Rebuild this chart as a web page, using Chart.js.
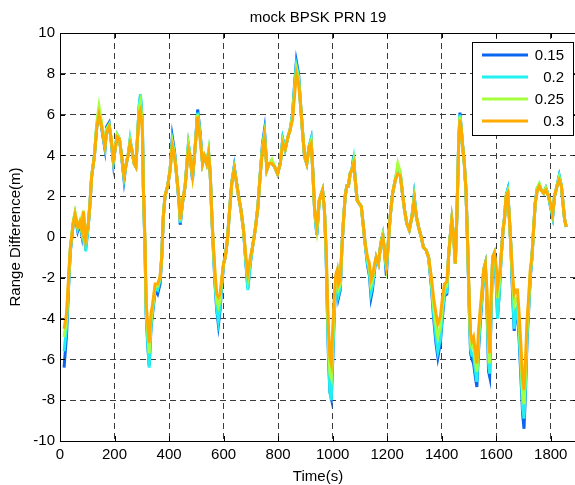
<!DOCTYPE html>
<html>
<head>
<meta charset="utf-8">
<title>mock BPSK PRN 19</title>
<script src="https://cdn.jsdelivr.net/npm/chart.js@4.4.1/dist/chart.umd.min.js"></script>
<style>
  html, body { margin: 0; padding: 0; background: #fff; overflow: hidden; }
  #wrap { width: 600px; height: 485px; }
</style>
</head>
<body>
<div id="wrap"><canvas id="rangeChart" width="600" height="485"></canvas></div>
<script>
// time axis (s), shared by all four runs
const times = [
  15, 24, 33, 38, 49, 55, 65, 73, 80, 86,
  94, 104, 110, 116, 126, 135, 143, 150, 159, 165,
  171, 180, 187, 196, 202, 210, 218, 226, 235, 241,
  251, 257, 263, 272, 278, 284, 290, 295, 302, 306,
  312, 316, 322, 327, 334, 340, 349, 358, 367, 373,
  379, 385, 395, 404, 412, 420, 428, 437, 441, 449,
  459, 471, 477, 486, 496, 505, 514, 523, 530, 538,
  545, 551, 557, 563, 569, 575, 581, 587, 594, 600,
  606, 614, 622, 630, 639, 646, 655, 664, 673, 682,
  689, 698, 706, 716, 726, 734, 743, 750, 759, 767,
  777, 787, 798, 808, 817, 826, 836, 844, 853, 860,
  867, 875, 882, 890, 897, 905, 914, 921, 927, 934,
  942, 951, 963, 970, 976, 981, 985, 990, 995, 1000,
  1006, 1012, 1017, 1022, 1028, 1034, 1040, 1046, 1052, 1058,
  1064, 1071, 1077, 1083, 1090, 1097, 1105, 1113, 1119, 1128,
  1135, 1141, 1146, 1154, 1160, 1168, 1177, 1184, 1190, 1197,
  1203, 1211, 1220, 1230, 1239, 1248, 1256, 1264, 1272, 1281,
  1291, 1299, 1307, 1315, 1325, 1333, 1343, 1352, 1362, 1370,
  1379, 1386, 1395, 1403, 1410, 1419, 1425, 1431, 1437, 1444,
  1450, 1456, 1462, 1467, 1472, 1477, 1483, 1489, 1495, 1501,
  1506, 1511, 1517, 1523, 1529, 1535, 1541, 1548, 1554, 1560,
  1566, 1572, 1576, 1581, 1587, 1593, 1599, 1605, 1611, 1618,
  1625, 1631, 1636, 1642, 1648, 1654, 1660, 1666, 1672, 1678,
  1684, 1691, 1697, 1702, 1707, 1713, 1719, 1725, 1731, 1737,
  1743, 1751, 1758, 1765, 1774, 1782, 1792, 1799, 1807, 1814,
  1823, 1831, 1839, 1845, 1851, 1857
];

// range difference (m) for each run
const r015 = [
  -6.4, -4.8, -2.0, -0.7, 0.7, 1.1, 0.3, 0.65, 0.1, 1.1,
  -0.6, 0.6, 1.65, 2.97, 3.95, 5.4, 6.1, 5.6, 4.8, 4.3,
  5.4, 5.6, 4.8, 3.6, 4.3, 5.0, 4.8, 3.95, 2.8, 3.45,
  4.1, 4.7, 4.3, 3.6, 3.45, 4.8, 6.3, 6.9, 5.6, 2.3,
  -0.7, -3.8, -5.3, -6.3, -4.4, -3.7, -2.6, -2.8, -2.3, -1.0,
  1.0, 2.0, 2.5, 3.3, 4.9, 4.2, 3.0, 1.6, 0.6, 1.65,
  2.5, 4.5, 3.95, 2.8, 4.45, 6.25, 5.1, 3.6, 3.95, 3.6,
  4.1, 3.1, 1.0, -0.8, -2.4, -3.6, -4.3, -3.6, -2.3, -1.3,
  -1.0, -0.15, 1.3, 2.65, 3.45, 2.8, 2.0, 1.3, 0.35, -1.3,
  -2.5, -1.3, -0.5, 0.35, 1.5, 3.0, 4.6, 5.25, 3.3, 3.6,
  3.6, 3.45, 3.1, 3.6, 4.8, 4.3, 4.9, 5.25, 6.0, 7.4,
  8.6, 8.0, 6.55, 5.1, 3.95, 3.6, 4.45, 4.8, 3.3, 1.3,
  0.1, 1.8, 2.3, 1.3, -0.8, -3.8, -6.0, -7.6, -7.9, -6.2,
  -3.8, -2.3, -1.9, -2.95, -2.6, -0.5, 0.85, 2.0, 2.5, 2.5,
  3.1, 3.3, 3.95, 2.8, 1.8, 1.65, 1.5, 0.5, -0.3, -1.4,
  -1.9, -2.95, -2.6, -1.6, -1.0, -1.3, -0.3, 0.1, -0.65, -1.9,
  -0.5, 1.0, 2.15, 2.8, 3.3, 3.1, 2.15, 1.3, 0.67, 0.35,
  1.0, 2.0, 1.0, 0.5, 0.0, -0.5, -0.65, -1.0, -2.4, -3.9,
  -5.2, -5.9, -5.2, -3.9, -2.9, -2.8, -1.0, 0.0, 0.85, 0.0,
  -1.3, 1.15, 4.45, 6.1, 5.25, 4.45, 3.6, 2.3, -0.3, -3.5,
  -5.7, -6.0, -6.2, -6.8, -7.35, -5.6, -4.3, -3.0, -1.6, -1.3,
  -3.4, -6.6, -6.85, -3.8, -1.0, -0.8, -1.9, -3.9, -2.8, -1.0,
  0.35, 1.0, 2.0, 2.3, 1.0, -0.5, -2.8, -4.6, -3.8, -3.6,
  -5.0, -7.0, -8.7, -9.4, -7.7, -5.1, -3.6, -2.0, -1.0, 0.35,
  1.65, 2.4, 2.5, 2.3, 2.15, 2.4, 2.0, 1.5, 1.0, 2.0,
  2.5, 3.0, 2.5, 1.65, 0.85, 0.5
];
const r020 = [
  -5.6, -4.4, -1.9, -0.6, 0.75, 1.15, 0.4, 0.7, 0.2, 1.2,
  -0.7, 0.6, 1.65, 2.97, 3.95, 5.5, 6.2, 5.7, 4.9, 4.4,
  5.3, 5.5, 4.8, 3.7, 4.3, 5.0, 4.8, 3.95, 2.9, 3.45,
  4.1, 4.8, 4.3, 3.6, 3.45, 4.8, 6.4, 7.0, 5.7, 2.3,
  -0.6, -3.7, -5.2, -6.4, -4.3, -3.6, -2.5, -2.6, -2.1, -1.0,
  1.0, 2.0, 2.5, 3.3, 4.7, 4.1, 3.0, 1.7, 0.7, 1.65,
  2.5, 4.6, 3.95, 2.9, 4.45, 6.1, 5.0, 3.6, 3.95, 3.6,
  4.2, 3.1, 1.0, -0.7, -2.3, -3.5, -4.1, -3.4, -2.2, -1.3,
  -1.0, -0.15, 1.3, 2.65, 3.4, 2.8, 2.0, 1.3, 0.35, -1.3,
  -2.6, -1.3, -0.5, 0.35, 1.5, 3.0, 4.5, 5.1, 3.3, 3.6,
  3.7, 3.45, 3.1, 3.6, 4.8, 4.3, 4.9, 5.25, 6.0, 7.3,
  8.4, 7.9, 6.55, 5.1, 3.95, 3.6, 4.45, 4.8, 3.3, 1.3,
  0.1, 1.8, 2.3, 1.3, -0.8, -3.8, -5.9, -7.6, -8.0, -6.0,
  -3.7, -2.2, -1.8, -2.8, -2.5, -0.5, 0.85, 2.0, 2.5, 2.5,
  3.1, 3.3, 3.8, 2.8, 1.8, 1.65, 1.5, 0.5, -0.3, -1.3,
  -1.8, -2.7, -2.4, -1.5, -1.0, -1.3, -0.3, 0.1, -0.65, -1.6,
  -0.5, 1.0, 2.15, 2.8, 3.4, 3.1, 2.15, 1.3, 0.67, 0.35,
  1.0, 2.0, 1.0, 0.5, 0.0, -0.5, -0.65, -1.0, -2.3, -3.7,
  -4.9, -5.6, -5.0, -3.7, -2.8, -2.7, -1.0, 0.0, 0.85, 0.0,
  -1.3, 1.15, 4.45, 6.0, 5.25, 4.45, 3.6, 2.3, -0.3, -3.4,
  -5.5, -5.8, -5.8, -6.5, -7.1, -5.4, -4.1, -2.9, -1.6, -1.3,
  -3.2, -6.2, -6.7, -3.6, -1.0, -0.8, -1.8, -4.0, -2.8, -1.0,
  0.35, 1.0, 2.0, 2.3, 1.0, -0.5, -2.6, -4.5, -3.6, -3.4,
  -4.7, -6.7, -8.4, -8.9, -7.4, -4.9, -3.5, -1.9, -1.0, 0.35,
  1.65, 2.4, 2.6, 2.3, 2.15, 2.4, 2.0, 1.5, 1.0, 2.0,
  2.5, 3.0, 2.5, 1.65, 0.85, 0.5
];
const r025 = [
  -4.9, -4.0, -1.7, -0.55, 0.8, 1.2, 0.5, 0.8, 0.3, 1.3,
  -0.3, 0.7, 1.65, 2.97, 3.95, 5.6, 6.4, 5.8, 5.0, 4.5,
  5.3, 5.5, 4.9, 3.8, 4.3, 5.0, 4.8, 3.95, 3.0, 3.45,
  4.1, 4.7, 4.3, 3.6, 3.45, 4.8, 6.3, 6.6, 5.5, 2.3,
  -0.5, -3.5, -4.7, -5.7, -4.0, -3.4, -2.4, -2.4, -2.0, -1.0,
  1.0, 2.0, 2.5, 3.3, 4.6, 4.0, 3.0, 1.8, 0.8, 1.65,
  2.5, 4.5, 3.95, 3.0, 4.45, 6.0, 4.9, 3.6, 3.95, 3.6,
  4.2, 3.1, 1.0, -0.6, -2.0, -3.1, -3.4, -3.1, -2.0, -1.3,
  -1.0, -0.15, 1.3, 2.65, 3.35, 2.8, 2.0, 1.3, 0.35, -1.1,
  -2.0, -1.1, -0.5, 0.35, 1.5, 3.0, 4.4, 5.0, 3.3, 3.6,
  3.8, 3.45, 3.1, 3.6, 4.7, 4.3, 4.9, 5.25, 5.9, 7.1,
  8.2, 7.7, 6.55, 5.1, 3.95, 3.6, 4.45, 4.7, 3.3, 1.3,
  0.4, 1.8, 2.3, 1.3, -0.6, -3.3, -5.2, -6.7, -6.9, -5.3,
  -3.3, -2.0, -1.7, -2.5, -2.3, -0.5, 0.85, 2.0, 2.5, 2.5,
  3.1, 3.3, 3.7, 2.8, 1.8, 1.65, 1.5, 0.5, -0.3, -1.1,
  -1.5, -2.3, -2.1, -1.4, -1.0, -1.3, -0.3, 0.1, -0.65, -1.4,
  -0.5, 1.0, 2.15, 2.8, 3.6, 3.2, 2.15, 1.3, 0.67, 0.35,
  1.0, 1.9, 1.0, 0.5, 0.0, -0.5, -0.65, -1.0, -2.1, -3.3,
  -4.3, -4.9, -4.4, -3.3, -2.5, -2.4, -1.0, 0.0, 0.85, 0.0,
  -1.3, 1.15, 4.45, 5.9, 5.25, 4.45, 3.6, 2.3, -0.3, -3.2,
  -5.1, -5.4, -5.3, -6.0, -6.6, -5.0, -3.8, -2.7, -1.6, -1.3,
  -2.9, -5.5, -6.2, -3.3, -1.0, -0.8, -1.5, -3.0, -2.3, -1.0,
  0.35, 1.0, 2.0, 2.2, 1.0, -0.5, -2.1, -3.3, -3.0, -3.0,
  -4.2, -6.0, -7.7, -8.2, -6.8, -4.5, -3.2, -1.7, -1.0, 0.35,
  1.65, 2.4, 2.6, 2.3, 2.15, 2.4, 2.0, 1.6, 1.1, 2.0,
  2.5, 2.9, 2.5, 1.65, 0.85, 0.5
];
const r030 = [
  -4.5, -3.75, -1.6, -0.5, 0.7, 1.1, 0.5, 0.75, 0.35, 1.25,
  -0.15, 0.67, 1.65, 2.97, 3.95, 5.4, 6.0, 5.6, 4.9, 4.45,
  5.1, 5.4, 4.9, 3.8, 4.3, 4.9, 4.8, 3.95, 3.0, 3.45,
  4.1, 4.6, 4.3, 3.6, 3.45, 4.8, 6.1, 6.25, 5.25, 2.3,
  -0.3, -3.25, -4.25, -5.2, -3.75, -3.25, -2.3, -2.3, -1.95, -1.0,
  1.0, 2.0, 2.5, 3.3, 4.45, 3.95, 3.0, 1.8, 0.85, 1.65,
  2.5, 4.3, 3.95, 3.0, 4.45, 5.9, 4.8, 3.6, 3.95, 3.6,
  4.1, 3.1, 1.0, -0.5, -1.8, -2.8, -2.95, -2.8, -1.95, -1.3,
  -1.0, -0.15, 1.3, 2.65, 3.3, 2.8, 2.0, 1.3, 0.35, -1.0,
  -1.8, -1.0, -0.5, 0.35, 1.5, 3.0, 4.3, 4.9, 3.3, 3.6,
  3.6, 3.45, 3.1, 3.6, 4.6, 4.3, 4.9, 5.25, 5.75, 6.9,
  8.0, 7.55, 6.55, 5.1, 3.95, 3.6, 4.45, 4.6, 3.3, 1.3,
  0.5, 1.8, 2.3, 1.3, -0.5, -2.95, -4.6, -5.9, -6.2, -4.6,
  -2.95, -1.8, -1.6, -2.3, -2.1, -0.5, 0.85, 2.0, 2.5, 2.5,
  3.1, 3.3, 3.6, 2.8, 1.8, 1.65, 1.5, 0.5, -0.3, -1.0,
  -1.3, -2.1, -1.95, -1.3, -1.0, -1.3, -0.3, 0.0, -0.65, -1.3,
  -0.5, 1.0, 2.15, 2.8, 3.1, 3.0, 2.15, 1.3, 0.67, 0.35,
  1.0, 1.8, 1.0, 0.5, 0.0, -0.5, -0.65, -1.0, -1.95, -2.95,
  -3.75, -4.25, -3.9, -2.95, -2.3, -2.2, -1.0, 0.0, 0.85, 0.0,
  -1.3, 1.15, 4.45, 5.75, 5.25, 4.45, 3.6, 2.3, -0.3, -2.95,
  -4.75, -5.1, -4.9, -5.55, -6.2, -4.6, -3.6, -2.6, -1.6, -1.3,
  -2.6, -4.9, -5.7, -2.95, -1.0, -0.8, -1.3, -2.45, -1.95, -1.0,
  0.35, 1.0, 2.0, 2.15, 1.0, -0.5, -1.8, -2.8, -2.6, -2.6,
  -3.75, -5.4, -7.0, -7.5, -6.2, -4.1, -2.95, -1.6, -1.0, 0.35,
  1.65, 2.3, 2.5, 2.3, 2.15, 2.3, 2.0, 1.65, 1.15, 2.0,
  2.5, 2.8, 2.5, 1.65, 0.85, 0.5
];

const seriesLabels = ['0.15', '0.2', '0.25', '0.3'];
const seriesColors = ['#0a66f0', '#22f0f0', '#a6ff3c', '#ffac00'];
const seriesValues = [r015, r020, r025, r030];

const xTickValues = [0, 200, 400, 600, 800, 1000, 1200, 1400, 1600, 1800];
const yTickValues = [-10, -8, -6, -4, -2, 0, 2, 4, 6, 8, 10];

const FONT = '15px "Liberation Sans", Arial, sans-serif';

// axes box, inward ticks, titles and the boxed legend, matlab style
const matlabFrame = {
  id: 'matlabFrame',
  afterDraw(chart) {
    const { ctx, chartArea: a, scales } = chart;
    const x = scales.x;
    const y = scales.y;
    ctx.save();
    ctx.strokeStyle = '#000';
    ctx.lineWidth = 1;
    ctx.setLineDash([]);
    ctx.strokeRect(Math.round(a.left) + 0.5, Math.round(a.top) + 0.5,
      Math.round(a.right - a.left), Math.round(a.bottom - a.top));

    ctx.beginPath();
    xTickValues.forEach((v) => {
      const px = Math.round(x.getPixelForValue(v)) + 0.5;
      ctx.moveTo(px, a.bottom); ctx.lineTo(px, a.bottom - 5);
      ctx.moveTo(px, a.top); ctx.lineTo(px, a.top + 5);
    });
    yTickValues.forEach((v) => {
      const py = Math.round(y.getPixelForValue(v)) + 0.5;
      ctx.moveTo(a.left, py); ctx.lineTo(a.left + 5, py);
      ctx.moveTo(a.right, py); ctx.lineTo(a.right - 5, py);
    });
    ctx.stroke();

    ctx.fillStyle = '#000';
    ctx.font = FONT;
    ctx.textAlign = 'center';
    ctx.textBaseline = 'alphabetic';
    ctx.fillText('mock BPSK PRN 19', 318, 22);
    ctx.fillText('Time(s)', 318, 481);

    ctx.save();
    ctx.translate(20, (a.top + a.bottom) / 2);
    ctx.rotate(-Math.PI / 2);
    ctx.fillText('Range Difference(m)', 0, 0);
    ctx.restore();

    // legend
    ctx.fillStyle = '#fff';
    ctx.fillRect(472, 42, 102, 94);
    ctx.strokeStyle = '#000';
    ctx.strokeRect(472.5, 42.5, 101, 93);
    chart.data.datasets.forEach((ds, i) => {
      const ry = 55 + i * 22;
      ctx.strokeStyle = ds.borderColor;
      ctx.lineWidth = 3;
      ctx.beginPath();
      ctx.moveTo(482, ry);
      ctx.lineTo(528, ry);
      ctx.stroke();
      ctx.fillStyle = '#000';
      ctx.textAlign = 'right';
      ctx.textBaseline = 'middle';
      ctx.fillText(ds.label, 564, ry + 1);
    });
    ctx.restore();
  }
};

const datasets = seriesLabels.map((label, i) => ({
  label,
  data: times.map((t, k) => ({ x: t, y: seriesValues[i][k] })),
  borderColor: seriesColors[i],
  backgroundColor: seriesColors[i],
  borderWidth: 3,
  pointRadius: 0,
  tension: 0,
  fill: false,
  order: seriesLabels.length - i,
}));

Chart.defaults.font.family = '"Liberation Sans", Arial, sans-serif';
Chart.defaults.font.size = 15;
Chart.defaults.color = '#000';

const config = {
  type: 'line',
  data: { datasets },
  options: {
    responsive: false,
    animation: false,
    layout: { padding: { top: 33, right: 22, bottom: 0, left: 0 } },
    plugins: {
      legend: { display: false },
      tooltip: { enabled: false },
      title: { display: false },
    },
    scales: {
      x: {
        type: 'linear',
        min: 0,
        max: 1900,
        afterBuildTicks: (scale) => { scale.ticks = xTickValues.map((v) => ({ value: v })); },
        afterFit: (scale) => { scale.height = 44; },
        grid: { color: '#3c3c3c', lineWidth: 1, drawTicks: false },
        border: { display: false, dash: [6, 4] },
        ticks: { padding: 5, maxRotation: 0, autoSkip: false, color: '#000', callback: (v) => String(v) },
      },
      y: {
        type: 'linear',
        min: -10,
        max: 10,
        afterBuildTicks: (scale) => { scale.ticks = yTickValues.map((v) => ({ value: v })); },
        afterFit: (scale) => { scale.width = 60; },
        grid: { color: '#3c3c3c', lineWidth: 1, drawTicks: false },
        border: { display: false, dash: [6, 4] },
        ticks: { padding: 5, autoSkip: false, color: '#000', callback: (v) => String(v) },
      },
    },
  },
  plugins: [matlabFrame],
};

const rangeChart = new Chart(document.getElementById('rangeChart'), config);
</script>
</body>
</html>
